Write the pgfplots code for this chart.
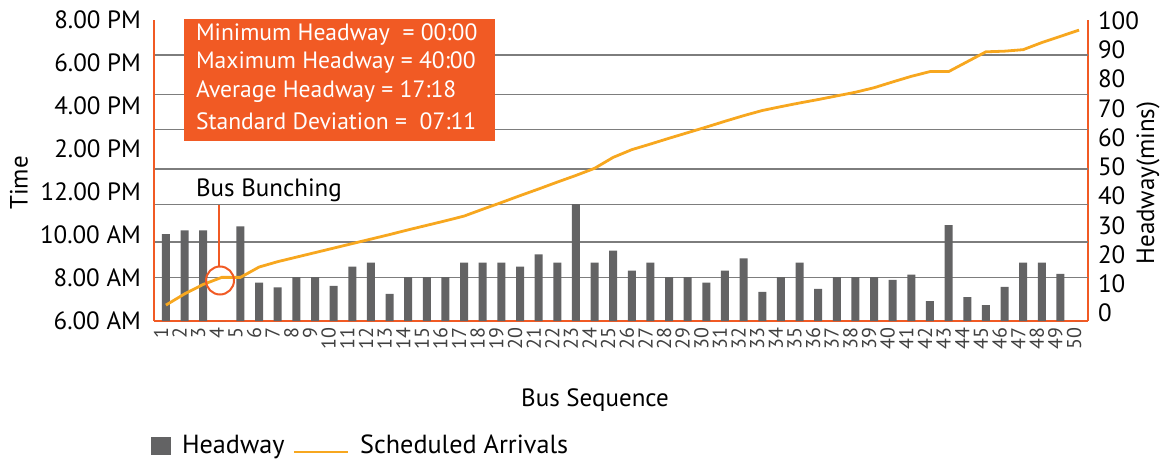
\documentclass[border=0pt]{standalone}
\usepackage{pgfplots}
\usepackage{pgfplotstable}
\pgfplotsset{compat=1.18}
\usepackage{fontspec}
\setmainfont{PT Sans}
\definecolor{axiscol}{RGB}{241,90,36}
\definecolor{barcol}{RGB}{99,99,100}
\definecolor{linecol}{RGB}{247,167,31}
\definecolor{gridcol}{RGB}{125,125,125}

\pgfplotstableread{
x h
1 29.7
2 31.0
3 31.0
4 0
5 32.4
6 13.1
7 11.5
8 15.0
9 15.0
10 12.0
11 18.6
12 20.0
13 9.3
14 15.0
15 15.0
16 15.0
17 20.0
18 20.0
19 20.0
20 18.6
21 22.8
22 20.0
23 40.0
24 20.0
25 24.1
26 17.2
27 20.0
28 15.0
29 15.0
30 13.1
31 17.2
32 21.4
33 10.0
34 15.0
35 20.0
36 11.0
37 15.0
38 15.0
39 15.0
40 14.1
41 15.9
42 6.8
43 32.8
44 8.2
45 5.4
46 11.7
47 20.0
48 20.0
49 16.1
50 0
}\headway

\pgfplotstableread{
x t
1 6.74
2 7.26
3 7.70
4 8.03
5 8.03
6 8.51
7 8.76
8 8.97
9 9.18
10 9.39
11 9.60
12 9.81
13 10.02
14 10.24
15 10.45
16 10.66
17 10.88
18 11.20
19 11.51
20 11.83
21 12.14
22 12.46
23 12.77
24 13.10
25 13.61
26 13.97
27 14.23
28 14.50
29 14.76
30 15.02
31 15.29
32 15.55
33 15.79
34 15.97
35 16.14
36 16.30
37 16.47
38 16.64
39 16.85
40 17.12
41 17.38
42 17.60
43 17.60
44 18.06
45 18.52
46 18.55
47 18.62
48 18.95
49 19.24
50 19.53
}\arrivals

\begin{document}
\begin{tikzpicture}
\path[use as bounding box] (0,0) rectangle (583pt,230.5pt);
% bars, right axis
\begin{axis}[
  at={(77pt,70pt)}, anchor=south west, scale only axis,
  width=467pt, height=150.5pt,
  xmin=0.36, xmax=50.48, ymin=0, ymax=103,
  axis x line*=bottom, axis y line*=right,
  axis line style={axiscol, line width=1.3pt, -},
  major tick length=0pt,
  font=\fontsize{12.5}{15}\selectfont,
  /pgf/number format/assume math mode=true,
  xtick={1,...,50},
  xticklabel style={xshift=-2.5pt, rotate=90, anchor=east, font=\fontsize{10}{12}\selectfont, text=black!75},
  ytick={0,10,...,100},
  yticklabel style={xshift=1.5pt, yshift=4pt},
  extra y ticks={14.8,27.0,39.9,52.0,65.4,77.6,91.0},
  extra y tick labels={},
  extra y tick style={grid=major, major grid style={gridcol, line width=0.6pt}},
  legend columns=2,
  legend style={at={(-0.01,-0.415)}, anchor=west, draw=none, fill=none,
    font=\fontsize{13.1}{15}\selectfont,
    /tikz/every odd column/.append style={column sep=3.5pt},
    /tikz/every even column/.append style={column sep=2pt}},
]
\addplot[ybar, bar width=4pt, fill=barcol, draw=none,
  legend image code/.code={\fill[barcol] (0pt,-4.5pt) rectangle (10pt,4.5pt);}]
  table[x=x,y=h]{\headway};
\addlegendentry{Headway}
\addlegendimage{legend image code/.code={\draw[linecol, line width=1.3pt] (0pt,-3pt) -- (27pt,-3pt);}}
\addlegendentry{Scheduled Arrivals}
\end{axis}
% line, left axis
\begin{axis}[
  at={(77pt,70pt)}, anchor=south west, scale only axis,
  width=467pt, height=150.5pt,
  xmin=0.36, xmax=50.48, ymin=6, ymax=20,
  axis x line=none, axis y line*=left,
  axis line style={axiscol, line width=1.3pt, -},
  major tick length=0pt,
  font=\fontsize{12.5}{15}\selectfont,
  ytick={6,8,...,20},
  yticklabels={6.00 AM,8.00 AM,10.00 AM,12.00 PM,2.00 PM,4.00 PM,6.00 PM,8.00 PM},
  yticklabel style={xshift=-3pt},
]
\addplot[linecol, line width=1.4pt] table[x=x,y=t]{\arrivals};
\end{axis}
\begin{scope}[font=\fontsize{12.5}{15}\selectfont]
\node[rotate=90] at (9.5pt,139pt) {Time};
\node[rotate=90] at (574pt,139pt) {Headway(mins)};
\node at (297.5pt,30.5pt) {Bus Sequence};
\fill[axiscol] (92pt,160pt) rectangle (247.5pt,221pt);
\begin{scope}[font=\fontsize{11.8}{14}\selectfont, text=white]
\node[anchor=west] at (94.5pt,213pt) {Minimum Headway\ \ = 00:00};
\node[anchor=west] at (94.5pt,199pt) {Maximum Headway = 40:00};
\node[anchor=west] at (94.5pt,184.5pt) {Average Headway = 17:18};
\node[anchor=west] at (94.5pt,170pt) {Standard Deviation =\ \ 07:11};
\end{scope}
\node[anchor=west] at (94.5pt,135.5pt) {Bus Bunching};
\draw[axiscol, line width=1pt] (109.5pt,128pt) -- (109.5pt,97.25pt);
\draw[axiscol, line width=1pt] (110pt,90.25pt) circle (7pt);
\end{scope}
\end{tikzpicture}
\end{document}
